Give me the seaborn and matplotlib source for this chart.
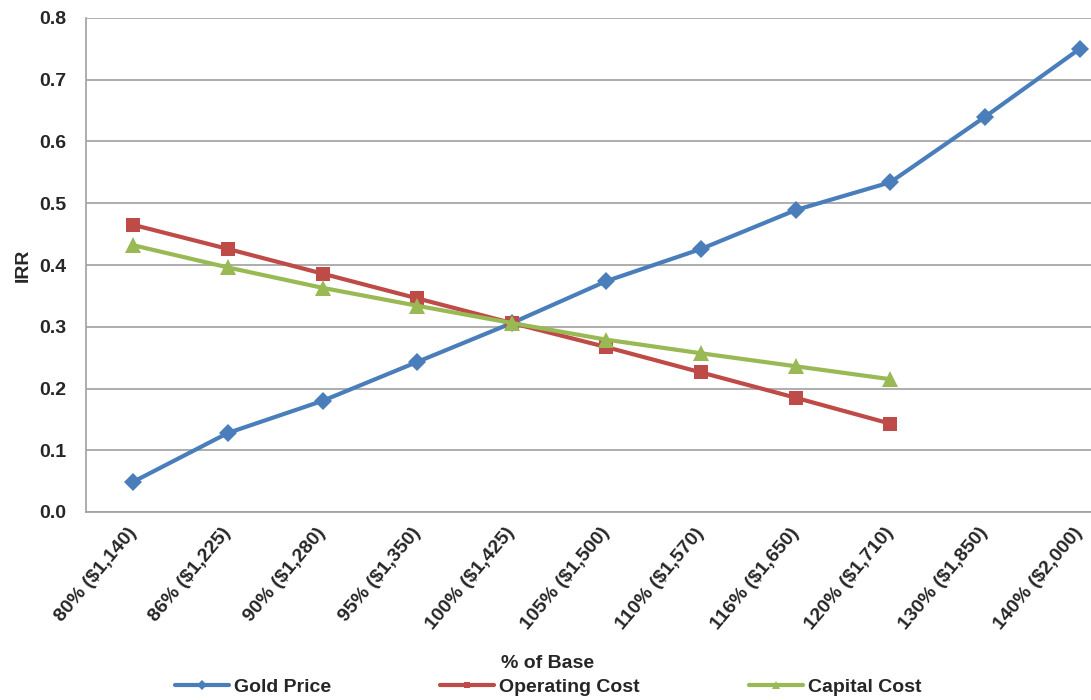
import numpy as np
import pandas as pd
import matplotlib
matplotlib.use("Agg")
import matplotlib.pyplot as plt
import seaborn as sns

# --- dane ---
categories = ["80% ($1,140)", "86% ($1,225)", "90% ($1,280)", "95% ($1,350)",
              "100% ($1,425)", "105% ($1,500)", "110% ($1,570)", "116% ($1,650)",
              "120% ($1,710)", "130% ($1,850)", "140% ($2,000)"]
gold_price = [0.049, 0.128, 0.180, 0.243, 0.306, 0.374, 0.426, 0.489, 0.534, 0.640, 0.750]
operating_cost = [0.465, 0.426, 0.386, 0.346, 0.306, 0.267, 0.226, 0.185, 0.143]
capital_cost = [0.432, 0.396, 0.363, 0.334, 0.306, 0.279, 0.257, 0.236, 0.215]

series = {"Gold Price": gold_price, "Operating Cost": operating_cost, "Capital Cost": capital_cost}
colors = {"Gold Price": "#4A7EBB", "Operating Cost": "#BE4B48", "Capital Cost": "#98B954"}
markers = {"Gold Price": "D", "Operating Cost": "s", "Capital Cost": "^"}
msizes = {"Gold Price": 9.5, "Operating Cost": 10, "Capital Cost": 11.5}

rows = []
for name, vals in series.items():
    for i, v in enumerate(vals):
        rows.append({"pos": i, "irr": v, "series": name})
df = pd.DataFrame(rows)

sns.set_style("white")
plt.rcParams["font.family"] = ["Liberation Sans", "DejaVu Sans"]
FS = 14

fig = plt.figure(figsize=(10.91, 7.0), dpi=100)
ax = fig.add_axes([86 / 1091, 1 - 512 / 700, 1 - 86 / 1091, (512 - 18) / 700])

for name in series:
    sub = df[df["series"] == name]
    sns.lineplot(data=sub, x="pos", y="irr", ax=ax, color=colors[name], linewidth=3,
                 marker=markers[name], markersize=msizes[name], markeredgewidth=0,
                 label=name, clip_on=False, zorder=3)

ax.set_xlim(-0.5, 10.12)
ax.set_ylim(0, 0.8)
ax.set_yticks(np.arange(0, 0.81, 0.1))
ax.yaxis.set_major_formatter(matplotlib.ticker.FormatStrFormatter("%.1f"))
ax.grid(axis="y", color="#A0A0A0", linewidth=1.2)
ax.grid(axis="x", visible=False)

for s in ["top", "right"]:
    ax.spines[s].set_visible(False)
for s in ["left", "bottom"]:
    ax.spines[s].set_color("#A0A0A0")
    ax.spines[s].set_linewidth(1.2)

ax.set_xticks(range(len(categories)))
ax.set_xticklabels(categories, rotation=50, ha="right", va="center",
                   rotation_mode="anchor", fontsize=FS, fontweight="bold")
ax.set_xticks(np.arange(-0.5, len(categories) - 0.5, 1), minor=True)
ax.tick_params(axis="x", which="major", length=0, pad=13)
ax.tick_params(axis="x", which="minor", length=5, color="#A0A0A0", width=1.2, direction="out")
ax.tick_params(axis="y", length=5, color="#A0A0A0", width=1.2, direction="out",
               labelsize=FS, pad=9)
for t in ax.get_yticklabels():
    t.set_fontweight("bold")

ax.set_xlabel("")
ax.set_ylabel("IRR", fontsize=FS, fontweight="bold")
ax.yaxis.set_label_coords(-0.054, 0.5)
fig.text(548 / 1091, 1 - 663 / 700, "% of Base", ha="center", va="center",
         fontsize=FS, fontweight="bold")

handles, labels = ax.get_legend_handles_labels()
ax.legend_.remove()
fig.legend(handles, labels, loc="center", bbox_to_anchor=(548 / 1091, 1 - 687 / 700),
           ncol=3, frameon=False, markerscale=0.5, handlelength=2.8, handletextpad=0.25,
           columnspacing=5.6, prop={"size": FS, "weight": "bold"})

fig.savefig("out.png", dpi=100)
